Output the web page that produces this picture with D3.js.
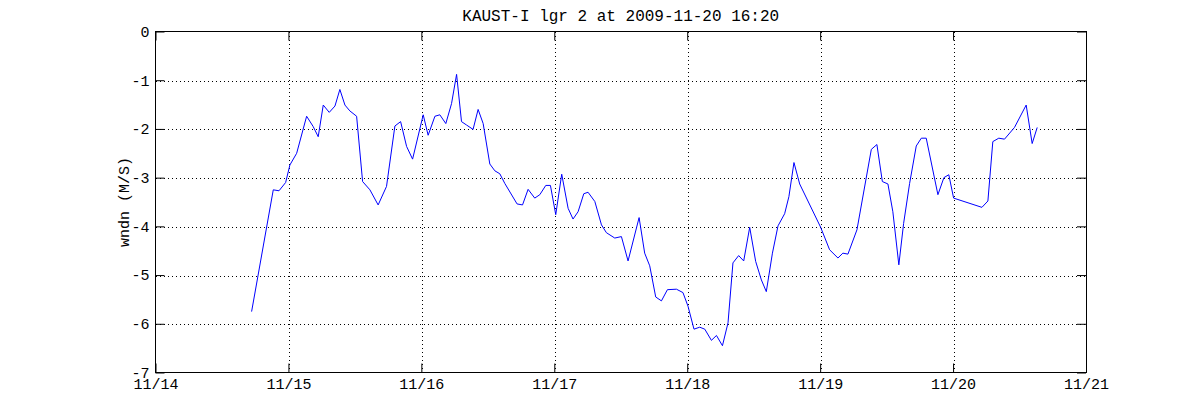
<!DOCTYPE html>
<meta charset="utf-8">
<style>

body {
  margin: 0;
  background: #fff;
}

text {
  font-family: "Liberation Mono", "Courier New", monospace;
  fill: #000;
}

.grid line {
  stroke: #000;
  stroke-width: 1px;
  stroke-dasharray: 1,3;
  shape-rendering: crispEdges;
}

.frame {
  fill: none;
  stroke: #000;
  stroke-width: 1px;
  shape-rendering: crispEdges;
}

.wndn {
  fill: none;
  stroke: #0000ff;
  stroke-width: 1px;
}

</style>
<body><svg width="1200" height="420"></svg></body>
<script src="https://d3js.org/d3.v7.min.js"></script>
<script>

// time as day of November 2009 (decimal), value in M/S
var days = [
  14.723, 14.886, 14.929, 14.979, 15.011, 15.062, 15.137, 15.186, 15.224, 15.262,
  15.307, 15.350, 15.387, 15.425, 15.462, 15.513, 15.558, 15.613, 15.675, 15.738,
  15.801, 15.844, 15.889, 15.934, 16.014, 16.051, 16.102, 16.139, 16.184, 16.227,
  16.265, 16.302, 16.340, 16.389, 16.427, 16.465, 16.515, 16.553, 16.590, 16.628,
  16.720, 16.761, 16.803, 16.853, 16.891, 16.936, 16.971, 17.011, 17.056, 17.104,
  17.141, 17.179, 17.222, 17.254, 17.305, 17.355, 17.392, 17.455, 17.505, 17.555,
  17.638, 17.680, 17.718, 17.763, 17.806, 17.851, 17.919, 17.968, 18.006, 18.051,
  18.094, 18.132, 18.182, 18.220, 18.265, 18.307, 18.344, 18.387, 18.425, 18.470,
  18.515, 18.558, 18.595, 18.641, 18.683, 18.733, 18.765, 18.803, 18.846, 19.004,
  19.071, 19.134, 19.171, 19.209, 19.277, 19.385, 19.427, 19.468, 19.510, 19.547,
  19.592, 19.628, 19.673, 19.723, 19.761, 19.798, 19.886, 19.931, 19.968, 20.004,
  20.217, 20.262, 20.299, 20.344, 20.387, 20.462, 20.550, 20.595, 20.633
];

var wndn = [
  -5.75, -3.25, -3.27, -3.10, -2.74, -2.50, -1.74, -1.95, -2.16, -1.51,
  -1.66, -1.53, -1.19, -1.51, -1.63, -1.74, -3.08, -3.25, -3.56, -3.18,
  -1.94, -1.85, -2.36, -2.62, -1.71, -2.13, -1.74, -1.71, -1.89, -1.48,
  -0.88, -1.85, -1.92, -2.01, -1.60, -1.89, -2.72, -2.86, -2.92, -3.12,
  -3.54, -3.56, -3.24, -3.42, -3.35, -3.16, -3.16, -3.76, -2.93, -3.63,
  -3.85, -3.70, -3.33, -3.30, -3.49, -3.97, -4.13, -4.24, -4.21, -4.71,
  -3.82, -4.55, -4.81, -5.45, -5.53, -5.30, -5.29, -5.36, -5.64, -6.11,
  -6.07, -6.11, -6.34, -6.24, -6.45, -5.98, -4.75, -4.60, -4.71, -4.02,
  -4.72, -5.10, -5.34, -4.55, -3.99, -3.74, -3.39, -2.69, -3.13, -4.02,
  -4.48, -4.65, -4.55, -4.57, -4.07, -2.42, -2.32, -3.08, -3.13, -3.70,
  -4.79, -3.94, -3.12, -2.35, -2.19, -2.19, -3.35, -3.00, -2.94, -3.42,
  -3.61, -3.48, -2.26, -2.19, -2.21, -1.97, -1.51, -2.30, -1.97
];

var yTicks = [0, -1, -2, -3, -4, -5, -6, -7];
var xDomain = [14, 21];

var title = "KAUST-I lgr 2 at 2009-11-20 16:20",
    yLabel = "wndn (M/S)";

var svg = d3.select("svg"),
    margin = {top: 31.5, right: 114, bottom: 47.5, left: 155.5},
    width = +svg.attr("width") - margin.left - margin.right,
    height = +svg.attr("height") - margin.top - margin.bottom;

function toDate(d) {
  return new Date(Date.UTC(2009, 10, 14) + (d - 14) * 864e5);
}

var x = d3.scaleUtc()
    .domain(xDomain.map(toDate))
    .range([0, width]);

var y = d3.scaleLinear()
    .domain([-7, 0])
    .range([height, 0]);

var g = svg.append("g")
    .attr("transform", "translate(" + margin.left + "," + margin.top + ")");

var xTicks = d3.utcDay.range(toDate(14), toDate(21.5));

// dotted grid
g.append("g")
    .attr("class", "grid")
  .selectAll("line")
  .data(xTicks.slice(1, -1))
  .enter().append("line")
    .attr("x1", function(d) { return Math.round(x(d)) + 0.5; })
    .attr("x2", function(d) { return Math.round(x(d)) + 0.5; })
    .attr("y1", 0)
    .attr("y2", height);

g.append("g")
    .attr("class", "grid")
  .selectAll("line")
  .data(yTicks.slice(1, -1))
  .enter().append("line")
    .attr("x1", 0)
    .attr("x2", width)
    .attr("y1", function(d) { return Math.round(y(d)) + 0.5; })
    .attr("y2", function(d) { return Math.round(y(d)) + 0.5; });

// axes, ticks pointing inward
var fmt = d3.utcFormat("%m/%d");

g.append("g")
    .attr("transform", "translate(0," + height + ")")
    .call(d3.axisBottom(x).tickValues(xTicks).tickFormat(fmt).tickSizeInner(-9).tickSizeOuter(0).tickPadding(7))
    .call(function(a) {
      a.select(".domain").remove();
      a.selectAll("text").attr("font-size", 15).attr("dy", "0.95em").attr("y", 2);
    });

g.append("g")
    .call(d3.axisTop(x).tickValues(xTicks).tickFormat("").tickSizeInner(-9).tickSizeOuter(0))
    .call(function(a) { a.select(".domain").remove(); });

g.append("g")
    .call(d3.axisLeft(y).tickValues(yTicks).tickFormat(function(d) { return d; }).tickSizeInner(-9).tickSizeOuter(0))
    .call(function(a) {
      a.select(".domain").remove();
      a.selectAll("text").attr("font-size", 15).attr("x", -6);
    });

g.append("g")
    .attr("transform", "translate(" + width + ",0)")
    .call(d3.axisRight(y).tickValues(yTicks).tickFormat("").tickSizeInner(-9).tickSizeOuter(0))
    .call(function(a) { a.select(".domain").remove(); });

g.append("rect")
    .attr("class", "frame")
    .attr("x", 0)
    .attr("y", 0)
    .attr("width", width)
    .attr("height", height);

// data line
var line = d3.line()
    .x(function(d, i) { return x(toDate(days[i])); })
    .y(function(d) { return y(d); });

g.append("path")
    .datum(wndn)
    .attr("class", "wndn")
    .attr("d", line);

svg.append("text")
    .attr("x", margin.left + width / 2)
    .attr("y", 21)
    .attr("text-anchor", "middle")
    .attr("font-size", 16)
    .text(title);

svg.append("text")
    .attr("transform", "translate(129," + (margin.top + height / 2) + ") rotate(-90)")
    .attr("text-anchor", "middle")
    .attr("font-size", 15)
    .text(yLabel);

</script>
